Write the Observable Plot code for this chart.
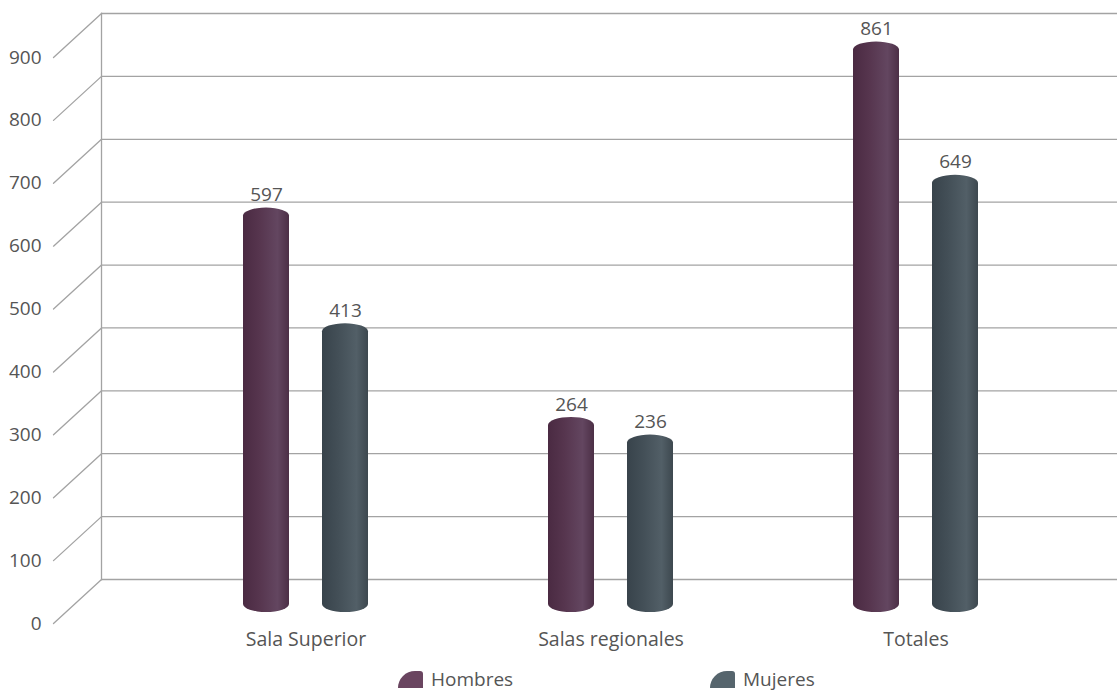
<!DOCTYPE html>
<html>
<head>
<meta charset="utf-8">
<script src="https://cdn.jsdelivr.net/npm/d3@7"></script>
<script src="https://cdn.jsdelivr.net/npm/@observablehq/plot@0.6"></script>
<style>
  html, body { margin: 0; padding: 0; background: #fff; overflow: hidden; }
  #chart svg { display: block; }
  .legend { position: relative; width: 1117px; height: 31px; font-family: "Open Sans", sans-serif; font-size: 19px; color: #555; }
  .legend .item { position: absolute; top: 6px; display: flex; align-items: center; }
  .legend .sw { width: 25px; height: 17px; border-radius: 17px 3px 0 0 / 17px 3px 0 0; margin-right: 8px; }
</style>
</head>
<body>
<div id="chart"></div>
<div class="legend" id="legend"></div>
<script>
// ---- data ----
const categories = ["Sala Superior", "Salas regionales", "Totales"];
const hombres = [597, 264, 861];
const mujeres = [413, 236, 649];
const yTicks = [0, 100, 200, 300, 400, 500, 600, 700, 800, 900];
const seriesNames = ["Hombres", "Mujeres"];
const seriesSwatch = ["#6a4560", "#56656d"];

const rowsH = categories.map((c, i) => ({category: c, value: hombres[i]}));
const rowsM = categories.map((c, i) => ({category: c, value: mujeres[i]}));

const gridColor = "#a3a3a3";
const textColor = "#555";
const depthX = 48, depthY = -44;      // back-wall offset
const barDy = -40;                    // bars sit at mid depth
const barOpts = {
  x: "category", y: "value", dy: barDy,
  insetLeft: 129.5, insetRight: 129.5, insetBottom: -29,
  rx: 23, ry: 8
};

const svg = Plot.plot({
  width: 1117,
  height: 660,
  marginLeft: 53,
  marginRight: 48,
  marginTop: 57,
  marginBottom: 37,
  style: {fontFamily: "Open Sans, sans-serif", fontSize: "19px", color: textColor, background: "#fff"},
  x: {domain: categories, range: [152.5, 1067.5], padding: 0, label: null},
  y: {domain: [0, 900], label: null},
  marks: [
    // back wall gridlines
    Plot.ruleY(yTicks, {dx: depthX, dy: depthY, stroke: gridColor, strokeWidth: 1.3}),
    // back wall left edge
    Plot.frame({anchor: "left", dx: depthX, dy: depthY, stroke: gridColor, strokeWidth: 1.3}),
    // side wall diagonals
    Plot.vector(yTicks, {
      y: d => d, frameAnchor: "left", anchor: "start",
      length: Math.hypot(depthX, depthY), rotate: Math.atan2(depthX, -depthY) * 180 / Math.PI,
      stroke: gridColor, strokeWidth: 1.3,
      shape: {draw(context, l) { context.moveTo(0, 0); context.lineTo(0, -l); }}
    }),
    Plot.axisY(yTicks, {tickSize: 0, tickPadding: 12, fontSize: 19, fill: textColor, label: null}),
    Plot.axisX({tickSize: 0, tickPadding: 9, fontSize: 19.5, fill: textColor, label: null}),
    // cylinders
    Plot.barY(rowsH, {...barOpts, dx: -39.5, fill: "url(#gradH)"}),
    Plot.barY(rowsM, {...barOpts, dx: 39.5, fill: "url(#gradM)"}),
    // value labels
    Plot.text(rowsH, {x: "category", y: "value", text: d => String(d.value), dx: -39.5, dy: barDy - 13, fontSize: 19, fill: textColor}),
    Plot.text(rowsM, {x: "category", y: "value", text: d => String(d.value), dx: 39.5, dy: barDy - 13, fontSize: 19, fill: textColor})
  ]
});

// gradients for the cylinder look
const NS = "http://www.w3.org/2000/svg";
const defs = document.createElementNS(NS, "defs");
function grad(id, stops) {
  const g = document.createElementNS(NS, "linearGradient");
  g.setAttribute("id", id);
  g.setAttribute("x1", "0"); g.setAttribute("x2", "1"); g.setAttribute("y1", "0"); g.setAttribute("y2", "0");
  stops.forEach(([o, c]) => {
    const s = document.createElementNS(NS, "stop");
    s.setAttribute("offset", o); s.setAttribute("stop-color", c);
    g.appendChild(s);
  });
  defs.appendChild(g);
}
grad("gradH", [["0", "#4a2a42"], ["0.35", "#56354e"], ["0.75", "#634660"], ["1", "#4c2f46"]]);
grad("gradM", [["0", "#38434b"], ["0.35", "#434f57"], ["0.75", "#525f67"], ["1", "#3d484f"]]);
svg.insertBefore(defs, svg.firstChild);

document.getElementById("chart").appendChild(svg);

// legend
const legend = document.getElementById("legend");
const legendLeft = [398, 710];
seriesNames.forEach((name, i) => {
  const item = document.createElement("div");
  item.className = "item";
  item.style.left = legendLeft[i] + "px";
  const sw = document.createElement("div");
  sw.className = "sw";
  sw.style.background = seriesSwatch[i];
  const t = document.createElement("span");
  t.textContent = name;
  item.appendChild(sw); item.appendChild(t);
  legend.appendChild(item);
});
</script>
</body>
</html>
